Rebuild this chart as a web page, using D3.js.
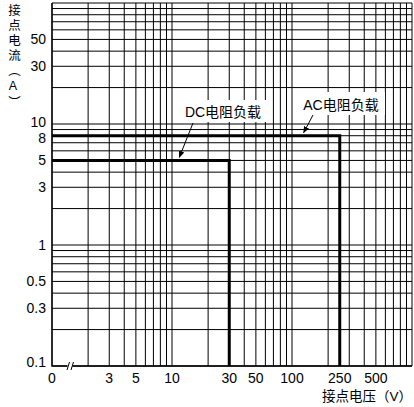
<!DOCTYPE html>
<html>
<head>
<meta charset="utf-8">
<script src="https://cdn.jsdelivr.net/npm/d3@7"></script>
<style>
  html, body { margin: 0; padding: 0; background: #fff; }
  svg { display: block; font-family: "Liberation Sans", Arial, "Noto Sans CJK SC", sans-serif; }
</style>
</head>
<body>
<div id="chart"></div>
<script>
// load curves: horizontal at max current, then straight down at max voltage
const loadNames = ['DC电阻负载', 'AC电阻负载'];
const maxVoltage = [30, 250];
const maxCurrent = [5, 8];

const xTickValues = [1, 3, 5, 10, 30, 50, 100, 250, 500];
const xTickLabels = ['0', '3', '5', '10', '30', '50', '100', '250', '500'];
const yTickValues = [0.1, 0.3, 0.5, 1, 3, 5, 8, 10, 30, 50];
const yTickLabels = ['0.1', '0.3', '0.5', '1', '3', '5', '8', '10', '30', '50'];

const width = 414;
const height = 407;
const margin = { top: 3, right: 2, bottom: 41, left: 52 };

const svg = d3.select('#chart')
    .append('svg')
    .attr('width', width)
    .attr('height', height)
    .attr('viewBox', [0, 0, width, height]);

const x = d3.scaleLog()
    .domain([1, 1000])
    .range([margin.left, width - margin.right]);

const y = d3.scaleLog()
    .domain([0.1, 100])
    .range([height - margin.bottom, margin.top]);

const x0 = x.range()[0], x1 = x.range()[1];
const y0 = y.range()[0], y1 = y.range()[1];

// grid
svg.append('g')
    .selectAll('line')
    .data(x.ticks())
    .join('line')
    .attr('x1', d => x(d)).attr('x2', d => x(d))
    .attr('y1', y0).attr('y2', y1)
    .attr('stroke', '#000')
    .attr('stroke-width', 1);

svg.append('g')
    .selectAll('line')
    .data(y.ticks())
    .join('line')
    .attr('x1', x0).attr('x2', x1)
    .attr('y1', d => y(d)).attr('y2', d => y(d))
    .attr('stroke', '#000')
    .attr('stroke-width', 1);

// axes lines
svg.append('path')
    .attr('d', `M${x0},${y1}V${y0}H${x1}`)
    .attr('fill', 'none')
    .attr('stroke', '#000')
    .attr('stroke-width', 1.3);

// axis break mark
svg.append('rect')
    .attr('x', 67.5).attr('y', y0 - 2)
    .attr('width', 5).attr('height', 4)
    .attr('fill', '#fff');
[67, 71].forEach(bx => {
    svg.append('line')
        .attr('x1', bx).attr('y1', y0 + 4)
        .attr('x2', bx + 2.5).attr('y2', y0 - 4)
        .attr('stroke', '#000')
        .attr('stroke-width', 1);
});

// tick labels
svg.append('g')
    .selectAll('text')
    .data(xTickValues)
    .join('text')
    .attr('x', d => x(d))
    .attr('y', y0 + 17)
    .attr('text-anchor', 'middle')
    .style('font-size', '14px')
    .text((d, i) => xTickLabels[i]);

const yNudge = { 0.1: -4, 10: -2, 8: 2 };
svg.append('g')
    .selectAll('text')
    .data(yTickValues)
    .join('text')
    .attr('x', x0 - 6)
    .attr('y', d => y(d) + (yNudge[d] || 0))
    .attr('dy', '0.36em')
    .attr('text-anchor', 'end')
    .style('font-size', '14px')
    .text((d, i) => yTickLabels[i]);

// axis titles
svg.append('text')
    .attr('x', 13)
    .attr('y', 4)
    .style('writing-mode', 'vertical-rl')
    .style('text-orientation', 'upright')
    .style('font-size', '12.5px')
    .style('letter-spacing', '2.5px')
    .text('接点电流（A）');

svg.append('text')
    .attr('x', 412)
    .attr('y', 401)
    .attr('text-anchor', 'end')
    .style('font-size', '13.5px')
    .text('接点电压（V）');

// load curves
const curve = d3.line()
    .x(d => x(d[0]))
    .y(d => y(d[1]));

loadNames.forEach((name, i) => {
    const pts = [[1, maxCurrent[i]], [maxVoltage[i], maxCurrent[i]], [maxVoltage[i], 0.1]];
    svg.append('path')
        .attr('d', curve(pts))
        .attr('fill', 'none')
        .attr('stroke', '#000')
        .attr('stroke-width', 3)
        .attr('stroke-linejoin', 'miter');
});

// labels with arrows
const labelBoxes = [
    { x: 176, y: 100, w: 94, h: 22, tx: 223, ty: 117, from: [193, 123], tip: [x(11.5), y(maxCurrent[0]) - 3] },
    { x: 297, y: 92, w: 88, h: 23, tx: 341, ty: 110, from: [313, 115], tip: [x(125), y(maxCurrent[1]) - 3] }
];

svg.append('defs').append('marker')
    .attr('id', 'head')
    .attr('viewBox', '0 0 10 10')
    .attr('refX', 9).attr('refY', 5)
    .attr('markerWidth', 7).attr('markerHeight', 7)
    .attr('markerUnits', 'userSpaceOnUse')
    .attr('orient', 'auto')
    .append('path')
    .attr('d', 'M0,1L10,5L0,9Z')
    .attr('fill', '#000');

labelBoxes.forEach((b, i) => {
    svg.append('rect')
        .attr('x', b.x).attr('y', b.y)
        .attr('width', b.w).attr('height', b.h)
        .attr('fill', '#fff');
    svg.append('text')
        .attr('x', b.tx).attr('y', b.ty)
        .attr('text-anchor', 'middle')
        .style('font-size', '14px')
        .text(loadNames[i]);
    svg.append('line')
        .attr('x1', b.from[0]).attr('y1', b.from[1])
        .attr('x2', b.tip[0]).attr('y2', b.tip[1])
        .attr('stroke', '#000')
        .attr('stroke-width', 1)
        .attr('marker-end', 'url(#head)');
});
</script>
</body>
</html>
